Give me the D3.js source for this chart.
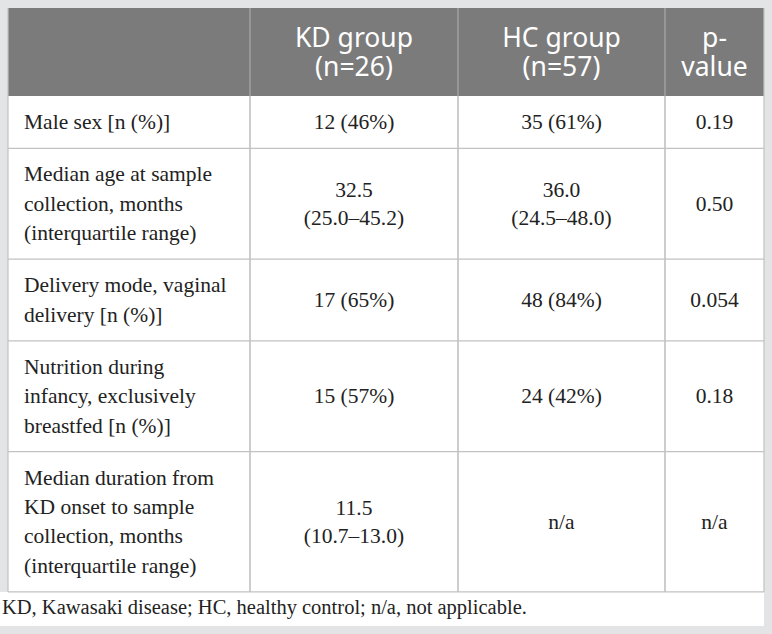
<!DOCTYPE html>
<html>
<head>
<meta charset="utf-8">
<script src="https://cdn.jsdelivr.net/npm/d3@7"></script>
<style>
  body { margin: 0; background: #e3e4e6; }
  svg { display: block; }
</style>
</head>
<body>
<svg id="pic" width="772" height="634"></svg>
<script>
// table content
var headers = [[""], ["KD group", "(n=26)"], ["HC group", "(n=57)"], ["p-", "value"]];
var rowLabels = [
  ["Male sex [n (%)]"],
  ["Median age at sample", "collection, months", "(interquartile range)"],
  ["Delivery mode, vaginal", "delivery [n (%)]"],
  ["Nutrition during", "infancy, exclusively", "breastfed [n (%)]"],
  ["Median duration from", "KD onset to sample", "collection, months", "(interquartile range)"]
];
var kdValues = [["12 (46%)"], ["32.5", "(25.0\u201345.2)"], ["17 (65%)"], ["15 (57%)"], ["11.5", "(10.7\u201313.0)"]];
var hcValues = [["35 (61%)"], ["36.0", "(24.5\u201348.0)"], ["48 (84%)"], ["24 (42%)"], ["n/a"]];
var pValues = [["0.19"], ["0.50"], ["0.054"], ["0.18"], ["n/a"]];
var footnote = "KD, Kawasaki disease; HC, healthy control; n/a, not applicable.";

var svg = d3.select("#pic");

var lineH = 29.3, pad = 23;
var headTop = 8, headBottom = 96;
var serif = "'Liberation Serif', 'Times New Roman', serif";

// column edges
var colX = d3.scaleOrdinal().domain(d3.range(5)).range([8, 250, 458, 665, 764]);

// row edges from line counts
var rowEdges = [headBottom];
rowLabels.forEach(function(r, i){
  rowEdges.push(rowEdges[i] + pad + lineH * r.length);
});
var rowY = d3.scaleOrdinal().domain(d3.range(rowEdges.length)).range(rowEdges);
var tableBottom = rowY(rowLabels.length);

// white body + footer
svg.append("rect").attr("x", 8).attr("y", headTop).attr("width", colX(4) - 8)
  .attr("height", tableBottom - headTop).attr("fill", "#fff");
svg.append("rect").attr("x", 0).attr("y", tableBottom).attr("width", colX(4))
  .attr("height", 34).attr("fill", "#fff");

// header band
svg.append("rect").attr("x", 8).attr("y", headTop).attr("width", colX(4) - 8)
  .attr("height", headBottom - headTop).attr("fill", "#7b7b7b");

// grid lines
var grid = svg.append("g").attr("stroke", "#c2c2c2").attr("stroke-width", 1.2);
d3.range(1, 4).forEach(function(c){
  grid.append("line").attr("x1", colX(c)).attr("x2", colX(c))
    .attr("y1", headTop).attr("y2", tableBottom)
    .attr("stroke", "#ababab");
});
d3.range(1, rowLabels.length + 1).forEach(function(r){
  grid.append("line").attr("x1", 8).attr("x2", colX(4))
    .attr("y1", rowY(r)).attr("y2", rowY(r));
});
grid.append("line").attr("x1", 8).attr("x2", 8).attr("y1", headTop).attr("y2", tableBottom);
grid.append("line").attr("x1", colX(4)).attr("x2", colX(4)).attr("y1", headTop).attr("y2", tableBottom);

// header text
headers.forEach(function(h, c){
  var cx = (colX(c) + colX(c + 1)) / 2;
  var cy = (headTop + headBottom) / 2;
  var t = svg.append("text").attr("text-anchor", "middle")
    .attr("font-family", "'Noto Sans', sans-serif").attr("font-size", 26.5)
    .attr("fill", "#fff");
  h.forEach(function(line, k){
    t.append("tspan").attr("x", cx)
      .attr("y", cy + (k - (h.length - 1) / 2) * 28.5 + 9.5)
      .text(line);
  });
});

// body cell writer
function cell(lines, c, r, anchor){
  var y0 = rowY(r), y1 = rowY(r + 1);
  var cy = (y0 + y1) / 2;
  var x = anchor === "start" ? colX(c) + 16 : (colX(c) + colX(c + 1)) / 2;
  var t = svg.append("text").attr("text-anchor", anchor)
    .attr("font-family", serif)
    .attr("font-size", 21.5).attr("fill", "#222");
  lines.forEach(function(line, k){
    t.append("tspan").attr("x", x)
      .attr("y", cy + (k - (lines.length - 1) / 2) * (anchor === "start" ? lineH : 28) + 7)
      .text(line);
  });
}

rowLabels.forEach(function(l, r){ cell(l, 0, r, "start"); });
kdValues.forEach(function(v, r){ cell(v, 1, r, "middle"); });
hcValues.forEach(function(v, r){ cell(v, 2, r, "middle"); });
pValues.forEach(function(v, r){ cell(v, 3, r, "middle"); });

// footnote
svg.append("text").attr("x", 2).attr("y", tableBottom + 22)
  .attr("font-family", serif)
  .attr("font-size", 20.5).attr("fill", "#222")
  .text(footnote);
</script>
</body>
</html>
